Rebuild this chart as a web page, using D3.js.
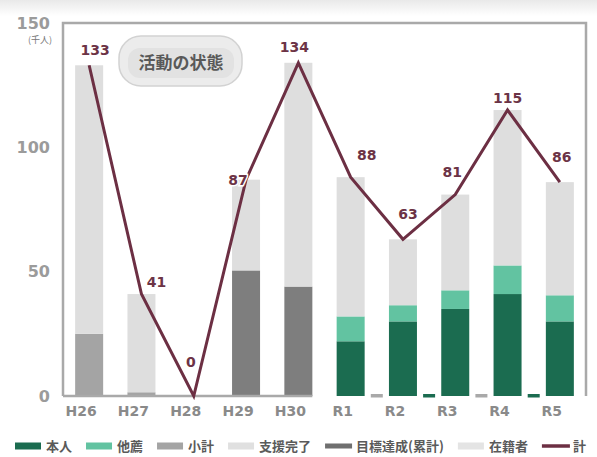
<!DOCTYPE html>
<html lang="ja">
<head>
<meta charset="utf-8">
<script src="https://cdn.jsdelivr.net/npm/d3@7"></script>
<style>
  html, body { margin: 0; padding: 0; background: #fff; }
  svg { display: block; font-family: "Noto Sans CJK JP", "Noto Sans", sans-serif; }
</style>
</head>
<body>
<svg id="chart" width="597" height="457"></svg>
<script>
// ---- data ----
const categories = ["H26", "H27", "H28", "H29", "H30", "R1", "R2", "R3", "R4", "R5"];
const selfCounts  = [0, 0, 0, 0, 0, 22, 30, 35, 41, 30];          // 本人
const otherCounts = [0, 0, 0, 0, 0, 10, 6.5, 7.5, 11.5, 10.5];    // 他薦
const earlyCounts = [25, 1.5, 0, 0, 0, 0, 0, 0, 0, 0];             // 小計
const lateCounts  = [0, 0, 0, 50.5, 44, 0, 0, 0, 0, 0];            // 目標達成
const restCounts  = [108, 39.5, 0, 36.5, 90, 56, 26.5, 38.5, 62.5, 45.5]; // 支援完了
const totals      = [133, 41, 0, 87, 134, 88, 63, 81, 115, 86];    // 計
const yTicks = [0, 50, 100, 150];

const seriesKeys   = ["self", "other", "early", "late", "rest"];
const seriesValues = { self: selfCounts, other: otherCounts, early: earlyCounts, late: lateCounts, rest: restCounts };
const seriesColors = { self: "#1b6c50", other: "#62c3a1", early: "#a4a4a4", late: "#7e7e7e", rest: "#dedede" };

const legendItems = [
  { label: "本人", color: "#1b6c50", kind: "rect" },
  { label: "他薦", color: "#62c3a1", kind: "rect" },
  { label: "小計", color: "#a4a4a4", kind: "rect" },
  { label: "支援完了", color: "#e0e0e0", kind: "rect" },
  { label: "目標達成(累計)", color: "#6f6f6f", kind: "bar" },
  { label: "在籍者", color: "#e4e4e4", kind: "rect" },
  { label: "計", color: "#6c2f43", kind: "line" }
];

// ---- layout ----
const svg = d3.select("#chart");
const plotL = 63, plotR = 586, plotT = 23, plotB = 396;
const barW = 28;
const lineColor = "#6c2f43";

// soft band along the top edge
const grad = svg.append("defs").append("linearGradient")
  .attr("id", "topband").attr("x1", 0).attr("y1", 0).attr("x2", 0).attr("y2", 1);
grad.append("stop").attr("offset", "0%").attr("stop-color", "#e9e9e9");
grad.append("stop").attr("offset", "100%").attr("stop-color", "#ffffff");
svg.append("rect").attr("x", 0).attr("y", 0).attr("width", 597).attr("height", 16)
  .attr("fill", "url(#topband)");

const x = d3.scaleBand().domain(categories).range([plotL, plotR]).paddingInner(0);
const y = d3.scaleLinear().domain([0, 150]).range([plotB, plotT]);
const cx = c => x(c) + x.bandwidth() / 2;

// frame
svg.append("path")
  .attr("d", `M${plotL},${plotB} V${plotT} H${plotR} V${plotB}`)
  .attr("fill", "none").attr("stroke", "#a9a9a9").attr("stroke-width", 2.5);

// stacked bars
const rows = categories.map((c, i) => {
  const r = { cat: c };
  seriesKeys.forEach(k => r[k] = seriesValues[k][i]);
  return r;
});
const stacked = d3.stack().keys(seriesKeys)(rows);
svg.append("g").selectAll("g").data(stacked).join("g")
  .attr("fill", d => seriesColors[d.key])
  .selectAll("rect").data(d => d).join("rect")
  .attr("x", d => cx(d.data.cat) - barW / 2)
  .attr("y", d => y(d[1]))
  .attr("width", barW)
  .attr("height", d => Math.max(0, y(d[0]) - y(d[1])));

// base line under the H-years and short marks between the R-years
const firstR = categories.indexOf("R1");
svg.append("line")
  .attr("x1", plotL).attr("x2", cx("H30") + barW / 2)
  .attr("y1", plotB).attr("y2", plotB)
  .attr("stroke", "#a9a9a9").attr("stroke-width", 2.5);
svg.append("g").selectAll("rect")
  .data(categories.slice(firstR + 1))
  .join("rect")
  .attr("x", d => x(d) - 6).attr("y", plotB - 2)
  .attr("width", 12).attr("height", 3.5)
  .attr("fill", (d, i) => i % 2 === 0 ? "#a9a9a9" : "#1b6c50");

// y axis labels
const yAxis = svg.append("g").attr("transform", `translate(${plotL},0)`)
  .call(d3.axisLeft(y).tickValues(yTicks).tickSize(0).tickPadding(13));
yAxis.select(".domain").remove();
yAxis.selectAll("text")
  .attr("fill", "#9b9b9b").attr("font-size", 16).attr("font-weight", 600)
  .attr("font-family", "'DejaVu Sans', sans-serif");
svg.append("text").attr("x", 40).attr("y", 43).attr("text-anchor", "middle")
  .attr("font-size", 9).attr("fill", "#777").text("(千人)");

// x axis labels
const xAxis = svg.append("g").attr("transform", `translate(-8,${plotB})`)
  .call(d3.axisBottom(x).tickSize(0).tickPadding(10));
xAxis.select(".domain").remove();
xAxis.selectAll("text")
  .attr("fill", "#8a8a8a").attr("font-size", 14).attr("font-weight", 600)
  .attr("font-family", "'DejaVu Sans', sans-serif");

// total line
const pts = categories.map((c, i) => [cx(c), y(totals[i])]);
svg.append("path")
  .attr("d", d3.line()(pts))
  .attr("fill", "none").attr("stroke", lineColor).attr("stroke-width", 3)
  .attr("stroke-linejoin", "miter");

// value labels on the line
const labelShift = {
  H26: [6, -15], H27: [15, -12], H28: [-3, -34], H29: [-8, 0], H30: [-4, -16],
  R1: [16, -22], R2: [5, -25], R3: [-3, -22], R4: [0, -12], R5: [2, -25]
};
svg.append("g").selectAll("text").data(categories).join("text")
  .attr("x", (c, i) => pts[i][0] + labelShift[c][0])
  .attr("y", (c, i) => pts[i][1] + labelShift[c][1])
  .attr("dy", "0.35em")
  .attr("text-anchor", "middle")
  .attr("font-size", 14).attr("font-weight", 700)
  .attr("font-family", "'DejaVu Sans', sans-serif")
  .attr("fill", "#6c3346")
  .attr("stroke", "#fff").attr("stroke-width", 3).attr("paint-order", "stroke")
  .text((c, i) => totals[i]);

// caption box
const cap = svg.append("g");
cap.append("rect").attr("x", 119).attr("y", 36).attr("width", 123).attr("height", 50)
  .attr("rx", 22).attr("fill", "#ececec").attr("stroke", "#d2d2d2").attr("stroke-width", 1.5);
cap.append("rect").attr("x", 128).attr("y", 48).attr("width", 106).attr("height", 30)
  .attr("rx", 12).attr("fill", "#e2e2e2");
cap.append("text").attr("x", 181).attr("y", 63).attr("dy", "0.35em")
  .attr("text-anchor", "middle").attr("font-size", 17).attr("font-weight", 700)
  .attr("fill", "#595959").text("活動の状態");

// legend
let lx = 15;
const ly = 446;
const lg = svg.append("g");
legendItems.forEach(item => {
  if (item.kind === "rect") {
    lg.append("rect").attr("x", lx).attr("y", ly - 3.5).attr("width", 26).attr("height", 7)
      .attr("fill", item.color);
  } else if (item.kind === "bar") {
    lg.append("rect").attr("x", lx).attr("y", ly - 2.5).attr("width", 27).attr("height", 5)
      .attr("fill", item.color);
  } else {
    lg.append("line").attr("x1", lx).attr("x2", lx + 28).attr("y1", ly).attr("y2", ly)
      .attr("stroke", item.color).attr("stroke-width", 3.5);
  }
  const t = lg.append("text").attr("x", lx + 31).attr("y", ly).attr("dy", "0.35em")
    .attr("font-size", 13).attr("font-weight", 700).attr("fill", "#5a5a5a").text(item.label);
  lx += 31 + t.node().getComputedTextLength() + 14;
});
</script>
</body>
</html>
